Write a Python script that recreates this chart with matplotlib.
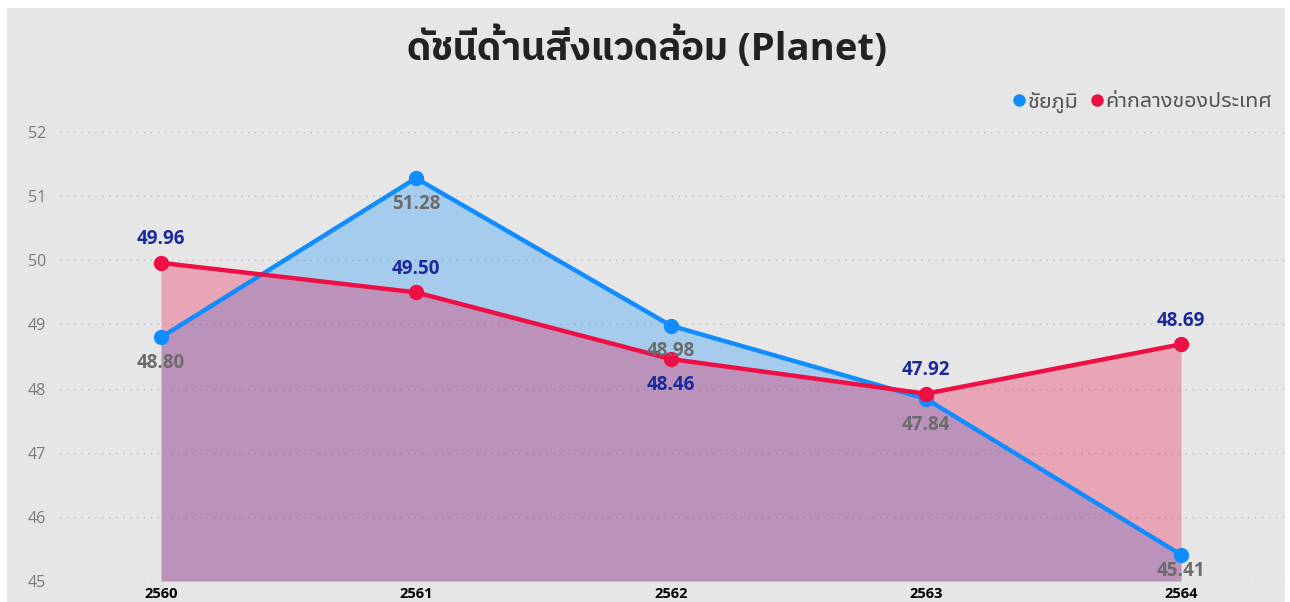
import matplotlib
matplotlib.use("Agg")
import matplotlib.pyplot as plt
from matplotlib.lines import Line2D
from matplotlib.patches import Rectangle

plt.rcParams['font.family'] = ['Open Sans', 'Noto Sans Thai UI']

years = [2560, 2561, 2562, 2563, 2564]
chaiyaphum = [48.80, 51.28, 48.98, 47.84, 45.41]
national = [49.96, 49.50, 48.46, 47.92, 48.69]
# where each data label sits relative to its point
chaiyaphum_label_pos = ['below', 'below', 'below', 'below', 'below']
national_label_pos = ['above', 'above', 'below', 'above', 'above']

title = "ดัชนีด้านสิ่งแวดล้อม (Planet)"
series_names = ["ชัยภูมิ", "ค่ากลางของประเทศ"]

BLUE = '#118DFF'
RED = '#EE0F45'
BG = '#E6E6E6'
Y_MIN, Y_MAX = 45, 52

fig = plt.figure(figsize=(12.9, 6.02), dpi=100, facecolor='white')
fig.patches.append(Rectangle((7 / 1290, 0), 1278 / 1290, 594 / 602,
                             transform=fig.transFigure, facecolor=BG,
                             edgecolor='none', zorder=-10))

ax = fig.add_axes([60 / 1290, 21 / 602, 1225 / 1290, 449 / 602])
ax.set_facecolor('none')

ax.fill_between(years, Y_MIN, chaiyaphum, color=BLUE, alpha=0.3, linewidth=0, zorder=1)
ax.fill_between(years, Y_MIN, national, color=RED, alpha=0.3, linewidth=0, zorder=2)
ax.plot(years, chaiyaphum, color=BLUE, lw=3.2, marker='o', ms=10,
        zorder=3, clip_on=False)
ax.plot(years, national, color=RED, lw=3.2, marker='o', ms=10,
        zorder=4, clip_on=False)


def add_labels(xs, ys, pos, color):
    for x, y, p in zip(xs, ys, pos):
        if p == 'above':
            dy = 17
        else:
            # squeeze the label up when the point sits near the bottom
            dy = -12 if y - Y_MIN < 0.7 else -18.5
        ax.annotate(f"{y:.2f}", (x, y), xytext=(0, dy), textcoords='offset points',
                    ha='center', va='center', fontsize=13.5, fontweight='bold',
                    color=color, zorder=6, annotation_clip=False)


add_labels(years, chaiyaphum, chaiyaphum_label_pos, '#6B6B6B')
add_labels(years, national, national_label_pos, '#1A2A9E')

ax.set_xlim(2560 - 101 / 255, 2564 + 104 / 255)
ax.set_ylim(Y_MIN, Y_MAX)
ax.set_yticks(range(Y_MIN, Y_MAX + 1))
ax.set_xticks(years)
ax.set_xticklabels([str(y) for y in years], fontsize=10.5, fontweight='bold',
                   color='black')
ax.tick_params(axis='x', length=0, pad=4)
ax.tick_params(axis='y', length=0, pad=10, labelsize=11.5, labelcolor='#7A7A7A')
ax.grid(axis='y', linestyle=(0, (1, 4)), color='#BDBDBD', linewidth=1)
ax.set_axisbelow(True)
for s in ax.spines.values():
    s.set_visible(False)

fig.text(647 / 1290, 1 - 48 / 602, title, ha='center', va='center',
         fontsize=27.5, fontweight='bold', color='#222222',
         family=['Open Sans', 'IBM Plex Sans Thai', 'Noto Sans Thai UI'])

handles = [Line2D([], [], linestyle='none', marker='o', ms=8, color=c)
           for c in (BLUE, RED)]
fig.legend(handles, series_names, loc='center right',
           bbox_to_anchor=(1281 / 1290, 1 - 102 / 602), ncol=2, frameon=False,
           fontsize=15.5, labelcolor='#555555', handletextpad=0.05,
           columnspacing=0.5, handlelength=0.7, borderaxespad=0)

fig.savefig("out.png", dpi=100, facecolor='white')
